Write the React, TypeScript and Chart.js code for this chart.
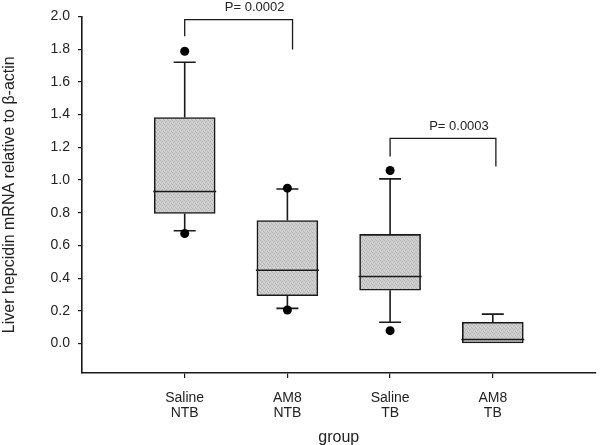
import React, { useEffect, useRef } from 'react';
import { Chart, registerables } from 'chart.js';

Chart.register(...registerables);

// ---- data ----
const groupLabels = [['Saline', 'NTB'], ['AM8', 'NTB'], ['Saline', 'TB'], ['AM8', 'TB']];
const groupX = [1, 2, 3, 4];
const q1 = [0.795, 0.292, 0.326, 0.0];
const median = [0.93, 0.448, 0.41, 0.025];
const q3 = [1.382, 0.752, 0.667, 0.13];
const whiskerLow: (number | null)[] = [0.69, 0.215, 0.13, null];
const whiskerHigh: (number | null)[] = [1.72, 0.945, 1.007, 0.18];
const outlierHigh: (number | null)[] = [1.787, 0.95, 1.058, null];
const outlierLow: (number | null)[] = [0.673, 0.205, 0.079, null];
const yTicks = [0, 0.2, 0.4, 0.6, 0.8, 1.0, 1.2, 1.4, 1.6, 1.8, 2.0];

// significance brackets
const pLabels = ['P= 0.0002', 'P= 0.0003'];
const pFrom = [1, 3];
const pTo = [2.05, 4.03];
const pTop = [1.98, 1.254];
const pLeftEnd = [1.878, 1.143];
const pRightEnd = [1.797, 1.082];

const FONT = "Arial, 'Liberation Sans', sans-serif";
const INK = '#1a1a1a';

const boxPlugin = {
  id: 'boxExtras',
  beforeDatasetsDraw(chart: any) {
    const { ctx, scales } = chart;
    const x = scales.x, y = scales.y;
    ctx.save();
    ctx.strokeStyle = INK;
    ctx.lineWidth = 1.6;
    groupX.forEach((gx, i) => {
      const px = x.getPixelForValue(gx);
      const capHalf = 11;
      const hi = whiskerHigh[i];
      const lo = whiskerLow[i];
      if (hi != null) {
        ctx.beginPath();
        ctx.moveTo(px, y.getPixelForValue(q3[i]));
        ctx.lineTo(px, y.getPixelForValue(hi));
        ctx.moveTo(px - capHalf, y.getPixelForValue(hi));
        ctx.lineTo(px + capHalf, y.getPixelForValue(hi));
        ctx.stroke();
      }
      if (lo != null) {
        ctx.beginPath();
        ctx.moveTo(px, y.getPixelForValue(q1[i]));
        ctx.lineTo(px, y.getPixelForValue(lo));
        ctx.moveTo(px - capHalf, y.getPixelForValue(lo));
        ctx.lineTo(px + capHalf, y.getPixelForValue(lo));
        ctx.stroke();
      }
    });
    ctx.restore();
  },
  afterDatasetsDraw(chart: any) {
    const { ctx, scales } = chart;
    const x = scales.x, y = scales.y;
    const meta = chart.getDatasetMeta(0);
    ctx.save();
    ctx.strokeStyle = INK;
    ctx.lineWidth = 1.6;
    groupX.forEach((gx, i) => {
      const bar = meta.data[i];
      const half = bar.width / 2;
      const px = x.getPixelForValue(gx);
      const py = y.getPixelForValue(median[i]);
      ctx.beginPath();
      ctx.moveTo(px - half - 1, py);
      ctx.lineTo(px + half + 1, py);
      ctx.stroke();
    });
    // brackets
    ctx.lineWidth = 1.3;
    ctx.fillStyle = '#222';
    ctx.font = `13px ${FONT}`;
    ctx.textAlign = 'center';
    ctx.textBaseline = 'middle';
    pLabels.forEach((lab, i) => {
      const x1 = x.getPixelForValue(pFrom[i]);
      const x2 = x.getPixelForValue(pTo[i]);
      const yt = y.getPixelForValue(pTop[i]);
      ctx.beginPath();
      ctx.moveTo(x1, y.getPixelForValue(pLeftEnd[i]));
      ctx.lineTo(x1, yt);
      ctx.lineTo(x2, yt);
      ctx.lineTo(x2, y.getPixelForValue(pRightEnd[i]));
      ctx.stroke();
      ctx.fillText(lab, (x1 + x2) / 2 + 16, yt - 12);
    });
    ctx.restore();
  },
};

export default function App() {
  const canvasRef = useRef<HTMLCanvasElement | null>(null);

  useEffect(() => {
    const canvas = canvasRef.current!;
    const ctx = canvas.getContext('2d')!;
    const tile = document.createElement('canvas');
    tile.width = 4;
    tile.height = 4;
    const tctx = tile.getContext('2d')!;
    tctx.fillStyle = '#cdcdcd';
    tctx.fillRect(0, 0, 4, 4);
    tctx.fillStyle = '#b4b4b4';
    [[0, 0], [2, 1], [1, 2], [3, 3]].forEach(([a, b]) => tctx.fillRect(a, b, 1, 1));
    tctx.fillStyle = '#d8d8d8';
    [[2, 3], [0, 2]].forEach(([a, b]) => tctx.fillRect(a, b, 1, 1));
    const pattern = ctx.createPattern(tile, 'repeat');

    const chart = new Chart(canvas, {
      type: 'bar',
      data: {
        datasets: [
          {
            type: 'bar',
            data: groupX.map((gx, i) => ({ x: gx, y: [q1[i], q3[i]] })) as any,
            backgroundColor: pattern as any,
            borderColor: INK,
            borderWidth: 1.6,
            borderSkipped: false,
            barThickness: 61,
            order: 2,
          },
          {
            type: 'scatter',
            data: groupX
              .map((gx, i) => ({ x: gx, y: outlierHigh[i] }))
              .filter((d) => d.y != null) as any,
            pointRadius: 4.5,
            pointBackgroundColor: '#000',
            pointBorderColor: '#000',
            pointBorderWidth: 0,
            order: 1,
          },
          {
            type: 'scatter',
            data: groupX
              .map((gx, i) => ({ x: gx, y: outlierLow[i] }))
              .filter((d) => d.y != null) as any,
            pointRadius: 4.5,
            pointBackgroundColor: '#000',
            pointBorderColor: '#000',
            pointBorderWidth: 0,
            order: 1,
          },
        ],
      },
      options: {
        responsive: false,
        animation: false,
        devicePixelRatio: 1,
        layout: { padding: { top: 14, right: 2, left: 0, bottom: 0 } },
        plugins: {
          legend: { display: false },
          tooltip: { enabled: false },
        },
        scales: {
          x: {
            type: 'linear',
            min: 0,
            max: 5,
            offset: false,
            afterBuildTicks: (s: any) => {
              s.ticks = groupX.map((v) => ({ value: v }));
            },
            afterFit: (s: any) => {
              s.height = 72;
            },
            ticks: {
              autoSkip: false,
              maxRotation: 0,
              padding: 12,
              color: '#222',
              font: { family: FONT, size: 14, lineHeight: 1.1 },
              callback: (v: any) => {
                const idx = groupX.indexOf(Number(v));
                return idx >= 0 ? groupLabels[idx] : '';
              },
            },
            grid: {
              offset: false,
              drawOnChartArea: false,
              drawTicks: true,
              tickLength: 5,
              color: INK,
              lineWidth: 1.2,
            },
            border: { display: true, color: INK, width: 1.6 },
            title: {
              display: true,
              text: 'group',
              color: '#222',
              font: { family: FONT, size: 16 },
              padding: { top: 0, bottom: -2 },
            },
          },
          y: {
            type: 'linear',
            min: -0.18,
            max: 2.0,
            afterBuildTicks: (s: any) => {
              s.ticks = yTicks.map((v) => ({ value: v }));
            },
            afterFit: (s: any) => {
              s.width = 82;
            },
            ticks: {
              padding: 8,
              color: '#222',
              font: { family: FONT, size: 14 },
              callback: (v: any) => Number(v).toFixed(1),
            },
            grid: {
              drawOnChartArea: false,
              drawTicks: true,
              tickLength: 4,
              color: INK,
              lineWidth: 1.2,
            },
            border: { display: true, color: INK, width: 1.6 },
            title: {
              display: true,
              text: 'Liver hepcidin mRNA relative to β-actin',
              color: '#222',
              font: { family: FONT, size: 16 },
              padding: { top: 0, bottom: 0 },
            },
          },
        },
      } as any,
      plugins: [boxPlugin],
    });
    return () => chart.destroy();
  }, []);

  return (
    <div style={{ position: 'fixed', left: 0, top: 0, width: 600, height: 445, background: '#fff' }}>
      <canvas ref={canvasRef} width={600} height={445} style={{ display: 'block' }} />
    </div>
  );
}
